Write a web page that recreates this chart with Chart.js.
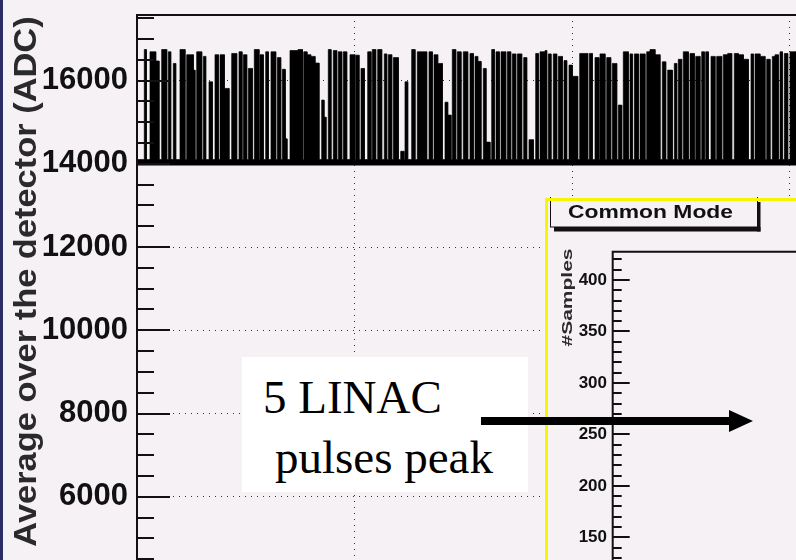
<!DOCTYPE html>
<html>
<head>
<meta charset="utf-8">
<script src="https://cdn.jsdelivr.net/npm/chart.js@4/dist/chart.umd.min.js"></script>
<style>
  html, body { margin: 0; padding: 0; background: #f5f1f5; overflow: hidden; }
  #wrap { position: relative; width: 796px; height: 560px; }
  #mainChart { position: absolute; left: 0; top: 0; }
  #insetChart { position: absolute; left: 544px; top: 197px; }
  #edge { position: absolute; left: 0; top: 0; width: 3px; height: 560px; background: #2d2d66; }
  #overlay { position: absolute; left: 0; top: 0; }
</style>
</head>
<body>
<div id="wrap">
  <canvas id="mainChart" width="796" height="560"></canvas>
  <canvas id="insetChart" width="252" height="363"></canvas>
  <div id="edge"></div>
  <svg id="overlay" width="796" height="560">
    <rect x="242" y="357" width="286" height="135" fill="#ffffff"/>
    <text x="263" y="413" font-family="Liberation Serif, 'Times New Roman', serif" font-size="47" fill="#000">5 LINAC</text>
    <text x="275" y="473" font-family="Liberation Serif, 'Times New Roman', serif" font-size="47" fill="#000">pulses peak</text>
    <line x1="481" y1="421" x2="732" y2="421" stroke="#000" stroke-width="8"/>
    <polygon points="729,410 753,421 729,432" fill="#000"/>
  </svg>
</div>
<script>
// ============================================
// Average over the detector vs. time, with the
// "Common Mode" histogram inset on top
// ============================================

// Pulse blocks (x in time bins, top in ADC)
const pulseStart = [7.3, 13, 18.7, 24.7, 31.3, 36.3, 43, 49.7, 56.3, 59.7, 66.3, 72, 78, 83, 87.3, 94.7, 102, 106.5, 111.3, 117.3,
  123, 128.7, 134, 140.3, 145.3, 148.5, 153, 161, 166.7, 170, 173.7, 178, 184.7, 187, 191.3, 196.3, 201.3, 206.3, 213, 219,
  224, 230.7, 235.3, 240.7, 247.3, 251.3, 256.3, 263.7, 268, 274.7, 280.3, 292, 297, 300.7, 308, 310.7, 315.3, 320.3, 326.3, 333,
  338, 340.7, 346.3, 349, 354.7, 359, 364, 370.3, 375.3, 380.3, 386.7, 392, 398.7, 403, 408, 411.3, 416.3, 421.3, 427, 432,
  435.3, 442.7, 452.3, 458, 463, 469.7, 475.3, 481.3, 486.3, 493, 497.3, 503, 509.7, 513, 518, 525.3, 530.7, 537.3, 541.3, 546.3,
  553, 558.7, 564.7, 568.7, 574, 579.7, 586.3, 590.7, 597.3, 601.3, 606.3, 614, 618, 623, 629.7, 635.3, 638, 643, 647.3, 653];
const pulseEnd = [9.3, 18.7, 22, 29.7, 33.7, 38.7, 48, 56.3, 58, 64.7, 68.7, 75.3, 81.3, 87.3, 92, 99.7, 105, 109.7, 115.3, 122,
  126.3, 131.3, 138.7, 143.7, 148, 150, 161, 165.5, 170, 173.7, 178, 182, 187, 189, 194, 199.7, 204.7, 209.7, 218, 222,
  227.3, 234, 238.7, 244.7, 249.7, 254.7, 261.3, 267, 270.7, 278, 289.7, 295.3, 300.7, 305.3, 310.7, 314, 318.7, 324, 330.7, 336.3,
  340.7, 344, 349, 353, 357.3, 362.3, 368.7, 373.7, 378.7, 384.7, 389.7, 396.3, 401.3, 408, 409.7, 414, 419.7, 425.3, 429.7, 435.3,
  440.7, 450.7, 455.3, 462, 468, 473.7, 479.7, 484.7, 491.3, 495.3, 501.3, 508, 513, 518, 523, 528.7, 535.3, 539.7, 544.7, 551.3,
  557.3, 563, 567.3, 571.3, 578, 584.7, 590.7, 594.7, 601.3, 606.3, 611.3, 616.3, 623, 628, 633, 638, 641.3, 645.3, 650.7, 659];
const pulseTop = [16745, 16690, 16470, 16745, 16690, 16410, 16745, 16620, 16250, 16690, 16580, 15970, 16620, 16620, 15810, 16650, 16690, 16620, 16290, 16745,
  16620, 16690, 16690, 16550, 16270, 14600, 16720, 16745, 16690, 16620, 16580, 16420, 15530, 15120, 16745, 16720, 16690, 16690, 16620, 16610,
  16290, 16690, 16745, 16745, 16640, 16620, 16550, 14300, 15970, 16745, 16690, 16690, 16620, 16410, 15480, 15170, 16745, 16690, 16690, 16650,
  16580, 16460, 16290, 14520, 16745, 16690, 16690, 16690, 16640, 16640, 16550, 14580, 16650, 16690, 16720, 16640, 16640, 16580, 16480, 16370,
  16100, 16650, 16650, 16550, 16640, 16550, 16410, 15410, 16690, 16640, 16640, 16640, 16690, 16745, 16620, 16450, 16250, 16410, 16510, 16690,
  16650, 16580, 16690, 16690, 16580, 16580, 16620, 16650, 16650, 16620, 16510, 16640, 16640, 16580, 16510, 16580, 16620, 16690, 16650, 16690];
const baseLevel = 14100;   // level between pulses
const floorLevel = 13960;  // bottom of the noise band

const yTickValues = [6000, 8000, 10000, 12000, 14000, 16000];
const xGridValues = [0, 217.5, 435, 652.5];
const insetTickValues = [150, 200, 250, 300, 350, 400];
const yTitle = 'Average over the detector (ADC)';
const insetTitle = 'Common Mode';
const insetAxisTitle = '#Samples';

const FONT = '"Liberation Sans", Arial, Helvetica, sans-serif';
const BG = '#f5f1f5';
const INK = '#111111';

// stepped outline of the pulse train
const pulsePoints = [{x: 0, y: baseLevel}];
pulseStart.forEach((s, i) => {
    pulsePoints.push({x: s, y: baseLevel}, {x: s, y: pulseTop[i]},
                     {x: pulseEnd[i], y: pulseTop[i]}, {x: pulseEnd[i], y: baseLevel});
});
pulsePoints.push({x: 659, y: baseLevel});

const mainFrame = {
    id: 'mainFrame',
    afterDatasetsDraw(chart) {
        const {ctx, chartArea: a, scales: {y}} = chart;
        ctx.save();
        ctx.strokeStyle = INK;
        ctx.lineWidth = 2;
        for (let v = 4500; v <= 17500; v += 500) {
            const py = Math.round(y.getPixelForValue(v));
            const len = yTickValues.includes(v) ? 33 : 17;
            ctx.beginPath();
            ctx.moveTo(a.left, py);
            ctx.lineTo(a.left + len, py);
            ctx.stroke();
        }
        ctx.beginPath();
        ctx.moveTo(a.left, a.bottom);
        ctx.lineTo(a.left, a.top);
        ctx.lineTo(a.right, a.top);
        ctx.stroke();
        ctx.restore();
    },
    afterDraw(chart) {
        const ctx = chart.ctx;
        ctx.save();
        ctx.translate(36, 281.5);
        ctx.rotate(-Math.PI / 2);
        ctx.scale(1.11, 1);
        ctx.font = 'bold 31px ' + FONT;
        ctx.fillStyle = '#2a2a2a';
        ctx.textAlign = 'center';
        ctx.textBaseline = 'alphabetic';
        ctx.fillText(yTitle, 0, 0);
        ctx.restore();
    }
};

new Chart(document.getElementById('mainChart'), {
    type: 'line',
    data: {
        datasets: [{
            label: 'Average ADC',
            data: pulsePoints,
            borderColor: '#000000',
            borderWidth: 0.7,
            backgroundColor: '#000000',
            fill: {value: floorLevel},
            pointRadius: 0,
            tension: 0
        }]
    },
    options: {
        responsive: false,
        animation: false,
        layout: {padding: {top: 15, left: 0, right: 0, bottom: 0}},
        plugins: {legend: {display: false}, tooltip: {enabled: false}},
        scales: {
            x: {
                type: 'linear',
                min: 0,
                max: 659,
                afterBuildTicks: s => { s.ticks = xGridValues.map(v => ({value: v})); },
                afterFit: s => { s.height = 0; },
                ticks: {display: false},
                grid: {color: '#333', lineWidth: 1, drawTicks: false},
                border: {display: false, dash: [1, 5]}
            },
            y: {
                min: 4481,
                max: 17574,
                afterBuildTicks: s => { s.ticks = yTickValues.map(v => ({value: v})); },
                afterFit: s => { s.width = 137; s.paddingTop = 0; s.paddingBottom = 0; },
                ticks: {
                    color: INK,
                    padding: 9,
                    font: {family: FONT, size: 31, weight: 'bold'},
                    callback: v => String(v)
                },
                grid: {color: '#333', lineWidth: 1, drawTicks: false},
                border: {display: false, dash: [1, 5]}
            }
        }
    },
    plugins: [mainFrame]
});

const insetFrame = {
    id: 'insetFrame',
    beforeDraw(chart) {
        const ctx = chart.ctx;
        ctx.save();
        ctx.fillStyle = BG;
        ctx.fillRect(0, 0, chart.width, chart.height);
        ctx.restore();
    },
    afterDraw(chart) {
        const {ctx, chartArea: a, scales: {y}} = chart;
        ctx.save();
        // ticks, axis and frame
        ctx.strokeStyle = INK;
        ctx.lineWidth = 2;
        for (let v = 130; v <= 420; v += 10) {
            const py = Math.round(y.getPixelForValue(v));
            const len = insetTickValues.includes(v) ? 17 : 9;
            ctx.beginPath();
            ctx.moveTo(a.left, py);
            ctx.lineTo(a.left + len, py);
            ctx.stroke();
        }
        ctx.beginPath();
        ctx.moveTo(a.left, a.bottom);
        ctx.lineTo(a.left, a.top);
        ctx.lineTo(a.right, a.top);
        ctx.stroke();

        // title box with shadow
        ctx.lineWidth = 1;
        ctx.strokeRect(6.5, -5, 207, 35);
        ctx.fillStyle = INK;
        ctx.fillRect(213, 5, 3.5, 29.5);
        ctx.fillRect(10, 30, 206.5, 4.5);
        ctx.save();
        ctx.translate(106.5, 21);
        ctx.scale(1.27, 1);
        ctx.font = 'bold 18px ' + FONT;
        ctx.textAlign = 'center';
        ctx.textBaseline = 'alphabetic';
        ctx.fillText(insetTitle, 0, 0);
        ctx.restore();

        // axis title
        ctx.save();
        ctx.translate(28, 100.5);
        ctx.rotate(-Math.PI / 2);
        ctx.scale(1.5, 1);
        ctx.font = 'bold 14px ' + FONT;
        ctx.fillStyle = '#2a2a2a';
        ctx.textAlign = 'center';
        ctx.fillText(insetAxisTitle, 0, 0);
        ctx.restore();

        // yellow pad border
        ctx.strokeStyle = '#f6f600';
        ctx.lineWidth = 3;
        ctx.beginPath();
        ctx.moveTo(2.5, chart.height);
        ctx.lineTo(2.5, 2.5);
        ctx.lineTo(chart.width, 2.5);
        ctx.stroke();
        ctx.restore();
    }
};

new Chart(document.getElementById('insetChart'), {
    type: 'line',
    data: {datasets: [{label: insetTitle, data: []}]},
    options: {
        responsive: false,
        animation: false,
        layout: {padding: {top: 54.7, left: 0, right: 0, bottom: 0}},
        plugins: {legend: {display: false}, tooltip: {enabled: false}},
        scales: {
            x: {type: 'linear', min: 0, max: 1, display: false},
            y: {
                min: 128,
                max: 427.5,
                afterBuildTicks: s => { s.ticks = insetTickValues.map(v => ({value: v})); },
                afterFit: s => { s.width = 68.7; s.paddingTop = 0; s.paddingBottom = 0; },
                ticks: {
                    color: INK,
                    padding: 5.7,
                    font: {family: FONT, size: 17, weight: 'bold'},
                    callback: v => String(v)
                },
                grid: {display: false, drawTicks: false},
                border: {display: false}
            }
        }
    },
    plugins: [insetFrame]
});
</script>
</body>
</html>
